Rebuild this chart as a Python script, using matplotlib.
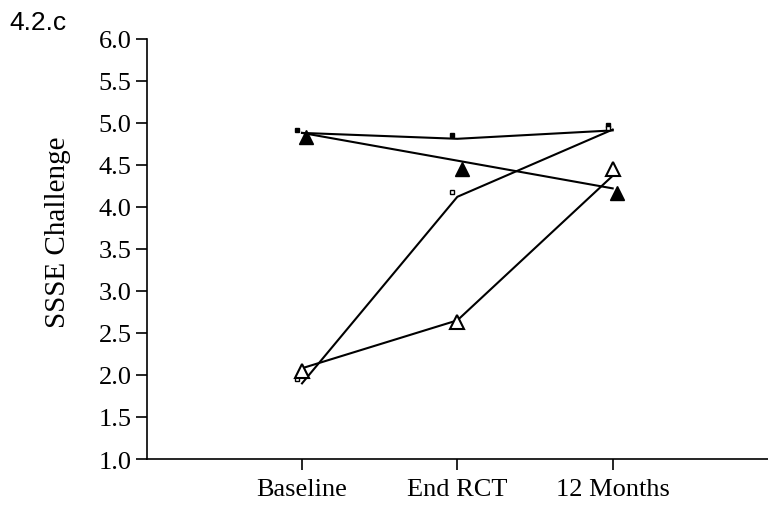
import matplotlib.pyplot as plt

times = ['Baseline', 'End RCT', '12 Months']
x = [1, 2, 3]

# observed points (markers)
sq_filled = [4.92, 4.86, 4.98]
sq_open = [1.95, 4.18, 4.94]
tri_filled = [4.83, 4.45, 4.17]
tri_open = [2.05, 2.63, 4.45]

# fitted lines
fit_sq_filled = [4.88, 4.81, 4.91]
fit_sq_open = [1.90, 4.12, 4.92]
fit_tri_filled = [4.88, 4.55, 4.22]
fit_tri_open = [2.08, 2.65, 4.37]

plt.rcParams['font.family'] = 'Liberation Serif'
fig = plt.figure(figsize=(7.68, 5.10), dpi=100)
ax = fig.add_axes([0.191, 0.098, 0.809, 0.824])

for fit in [fit_sq_filled, fit_sq_open, fit_tri_filled, fit_tri_open]:
    ax.plot(x, fit, color='black', lw=1.5)

ax.plot([v - 0.032 for v in x], sq_filled, 's', color='black', ms=3.5, ls='none')
ax.plot([v - 0.032 for v in x], sq_open, 's', mfc='white', mec='black', mew=1, ms=3.5, ls='none')
ax.plot([v + 0.028 for v in x], tri_filled, '^', color='black', ms=10, ls='none')
ax.plot(x, tri_open, '^', mfc='white', mec='black', mew=1.5, ms=10, ls='none')

ax.set_xlim(0, 4)
ax.set_ylim(1, 6)
ax.set_xticks(x)
ax.set_xticklabels(times)
ax.set_yticks([1.0 + 0.5 * i for i in range(11)])
ax.set_yticklabels(['%.1f' % (1.0 + 0.5 * i) for i in range(11)])
ax.tick_params(labelsize=19, length=8, width=1.2, colors='black', pad=3)
ax.tick_params(axis='x', pad=6)
ax.spines['top'].set_visible(False)
ax.spines['right'].set_visible(False)
ax.spines['left'].set_linewidth(1.2)
ax.spines['bottom'].set_linewidth(1.2)
ax.set_ylabel('SSSE Challenge', fontsize=21)
ax.yaxis.set_label_coords(-0.122, 0.543)

fig.text(0.012, 0.978, '4.2.c', fontsize=19, family='Liberation Sans', va='top', ha='left')

plt.savefig('out.png')
